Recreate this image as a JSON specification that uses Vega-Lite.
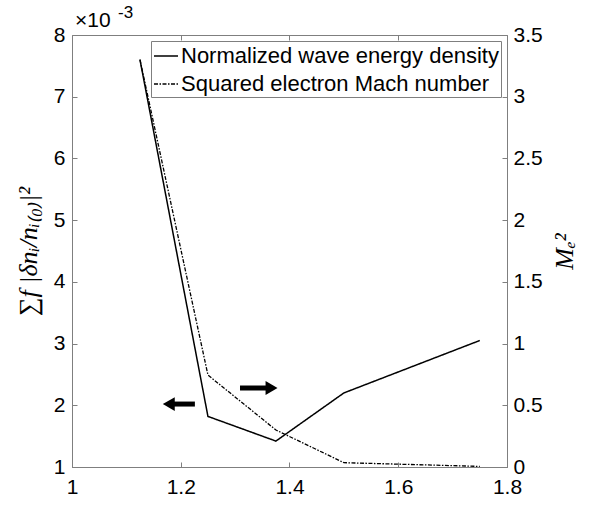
{
  "$schema": "https://vega.github.io/schema/vega-lite/v6.json",
  "width": 435,
  "height": 432,
  "autosize": {"type": "none"},
  "padding": {"left": 72, "top": 35, "right": 86, "bottom": 42},
  "background": "white",
  "datasets": {
    "main": [
      {"x": 1.125, "w": 7.6, "m": 3.3},
      {"x": 1.25, "w": 1.82, "m": 0.745},
      {"x": 1.375, "w": 1.42, "m": 0.3},
      {"x": 1.5, "w": 2.2, "m": 0.035},
      {"x": 1.75, "w": 3.05, "m": 0.005}
    ],
    "shafts": [
      {"xa": 1.226, "xb": 1.178, "y": 2.02},
      {"xa": 1.309, "xb": 1.367, "y": 2.28}
    ],
    "heads": [
      {"x": 1.178, "y": 2.02, "dir": "left"},
      {"x": 1.367, "y": 2.28, "dir": "right"}
    ],
    "expo": [
      {"x": 1, "y": 8, "base": "×10", "power": "-3"}
    ]
  },
  "config": {
    "font": "Liberation Sans",
    "view": {"stroke": "#7f7f7f", "strokeWidth": 1},
    "axis": {
      "grid": false,
      "domainColor": "#7f7f7f",
      "tickColor": "#7f7f7f",
      "labelColor": "black",
      "labelFontSize": 21,
      "labelFont": "Liberation Sans",
      "tickSize": -5,
      "titleColor": "black",
      "titleFont": "Liberation Serif",
      "titleFontStyle": "italic",
      "titleFontWeight": "normal",
      "titleFontSize": 26
    },
    "legend": {
      "orient": "top-right",
      "offset": 6,
      "padding": 2,
      "strokeColor": "#7f7f7f",
      "fillColor": "white",
      "labelFontSize": 22,
      "labelFont": "Liberation Sans",
      "labelColor": "black",
      "symbolType": "stroke",
      "symbolSize": 576,
      "symbolStrokeWidth": 1.5,
      "symbolStrokeColor": "black",
      "rowPadding": 4,
      "labelOffset": 2,
      "labelLimit": 400
    }
  },
  "layer": [
    {
      "data": {"name": "main"},
      "mark": {"type": "line", "color": "black", "strokeWidth": 1.5},
      "encoding": {
        "x": {"field": "x", "type": "quantitative", "scale": {"domain": [1, 1.8], "nice": false},
              "axis": {"orient": "bottom", "values": [1, 1.2, 1.4, 1.6, 1.8], "format": "~g", "title": null, "labelPadding": 14, "labelFlush": false}},
        "y": {"field": "w", "type": "quantitative", "scale": {"domain": [1, 8], "nice": false, "zero": false},
              "axis": {"orient": "left", "values": [1, 2, 3, 4, 5, 6, 7, 8], "format": "~g", "title": "∑f |δnᵢ/nᵢ₍₀₎|²", "labelPadding": 12, "titlePadding": 12}},
        "strokeDash": {"datum": "Normalized wave energy density", "type": "nominal",
              "scale": {"domain": ["Normalized wave energy density", "Squared electron Mach number"], "range": [[1, 0], [4, 1.5, 1.5, 1.5]]},
              "legend": {"title": null}}
      }
    },
    {
      "data": {"name": "shafts"},
      "mark": {"type": "rule", "color": "black", "strokeWidth": 5},
      "encoding": {
        "x": {"field": "xa", "type": "quantitative", "axis": null},
        "x2": {"field": "xb"},
        "y": {"field": "y", "type": "quantitative", "scale": {"domain": [1, 8], "nice": false, "zero": false}, "axis": null}
      }
    },
    {
      "data": {"name": "heads"},
      "mark": {"type": "point", "filled": true, "color": "black", "opacity": 1, "size": 190},
      "encoding": {
        "x": {"field": "x", "type": "quantitative", "axis": null},
        "y": {"field": "y", "type": "quantitative", "scale": {"domain": [1, 8], "nice": false, "zero": false}, "axis": null},
        "shape": {"field": "dir", "type": "nominal", "scale": {"domain": ["left", "right"], "range": ["triangle-left", "triangle-right"]}, "legend": null}
      }
    },
    {
      "data": {"name": "expo"},
      "mark": {"type": "text", "align": "left", "baseline": "alphabetic", "fontSize": 21, "font": "Liberation Sans", "color": "black", "dx": 3, "dy": -8},
      "encoding": {
        "x": {"field": "x", "type": "quantitative", "axis": null},
        "y": {"field": "y", "type": "quantitative", "scale": {"domain": [1, 8], "nice": false, "zero": false}, "axis": null},
        "text": {"field": "base"}
      }
    },
    {
      "data": {"name": "expo"},
      "mark": {"type": "text", "align": "left", "baseline": "alphabetic", "fontSize": 17, "font": "Liberation Sans", "color": "black", "dx": 46, "dy": -17},
      "encoding": {
        "x": {"field": "x", "type": "quantitative", "axis": null},
        "y": {"field": "y", "type": "quantitative", "scale": {"domain": [1, 8], "nice": false, "zero": false}, "axis": null},
        "text": {"field": "power"}
      }
    },
    {
      "data": {"name": "main"},
      "mark": {"type": "line", "color": "black", "strokeWidth": 1.3},
      "encoding": {
        "x": {"field": "x", "type": "quantitative", "axis": {"orient": "top", "values": [1.2, 1.4, 1.6], "labels": false, "title": null, "domain": false}},
        "y": {"field": "m", "type": "quantitative", "scale": {"domain": [0, 3.5], "nice": false},
              "axis": {"orient": "right", "values": [0, 0.5, 1, 1.5, 2, 2.5, 3, 3.5], "format": "~g", "title": "Mₑ²", "titleAngle": 270, "labelPadding": 11, "titlePadding": 35}},
        "strokeDash": {"datum": "Squared electron Mach number", "type": "nominal"}
      }
    }
  ],
  "resolve": {"scale": {"y": "independent"}, "axis": {"x": "independent"}}
}
